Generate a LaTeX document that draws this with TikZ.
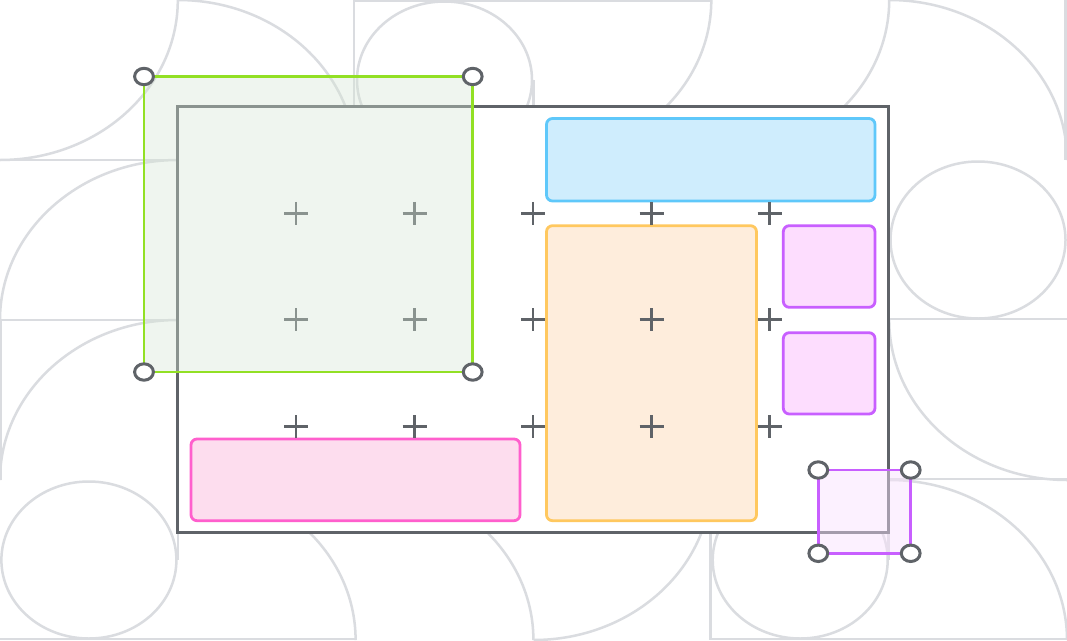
\documentclass[tikz,border=0pt]{standalone}
\definecolor{bgline}{RGB}{218,220,224}
\definecolor{ink}{RGB}{95,99,104}
\definecolor{grnS}{RGB}{146,224,36}
\definecolor{grnF}{RGB}{214,230,212}
\definecolor{bluS}{RGB}{95,200,250}
\definecolor{bluF}{RGB}{207,237,253}
\definecolor{orgS}{RGB}{255,200,95}
\definecolor{orgF}{RGB}{254,237,220}
\definecolor{pnkS}{RGB}{255,95,205}
\definecolor{pnkF}{RGB}{253,221,238}
\definecolor{prpS}{RGB}{200,95,255}
\definecolor{prpF}{RGB}{253,221,254}
\definecolor{selF}{RGB}{250,226,255}
\tikzset{
  bgl/.style={draw=bgline, line width=2.5pt},
  framebox/.style={draw=ink, fill=white, line width=2.8pt},
  card/.style={line width=2.8pt, rounded corners=6pt},
  crossmark/.style={draw=ink, line width=2.8pt},
  handle/.style={draw=ink, fill=white, line width=3pt},
}
\begin{document}
\begin{tikzpicture}[x=1pt,y=-1pt]
\useasboundingbox (0,0) rectangle (1067,640);
\clip (0,0) rectangle (1067,640);
\fill[white] (0,0) rectangle (1067,640);
% background pattern
\begin{scope}[bgl]
  % row 0
  \draw (177.8,0) arc[start angle=0,end angle=90,x radius=177.8,y radius=160];
  \draw (177.8,0) arc[start angle=-90,end angle=0,x radius=177.8,y radius=160];
  \draw (0,160) -- (177.8,160);
  \draw (444.5,80) ellipse[x radius=87.5,y radius=78.5];
  \draw (354,160) -- (354,1) -- (711.3,1);
  \draw (533.5,80) -- (533.5,160);
  \draw (711.3,0) arc[start angle=0,end angle=90,x radius=177.8,y radius=160];
  \draw (889.2,0) arc[start angle=0,end angle=90,x radius=177.8,y radius=160];
  \draw (889.2,0) arc[start angle=-90,end angle=0,x radius=177.8,y radius=160];
  \draw (1065.5,0) -- (1065.5,160);
  % row 1
  \draw (177.8,160) arc[start angle=-90,end angle=-180,x radius=177.8,y radius=160];
  \draw (0,320) -- (177.8,320);
  \draw (978,240) ellipse[x radius=87.5,y radius=78.5];
  \draw (889.2,319) -- (1067,319);
  % row 2
  \draw (177.8,320) arc[start angle=-90,end angle=-180,x radius=177.8,y radius=160];
  \draw (1.2,320) -- (1.2,480);
  \draw (889.2,320) arc[start angle=180,end angle=90,x radius=177.8,y radius=160];
  \draw (889.2,479) -- (1067,479);
  % row 3
  \draw (88.9,560) ellipse[x radius=87.5,y radius=78.5];
  \draw (177.8,480) -- (177.8,560);
  \draw (0,638.8) -- (355.6,638.8);
  \draw (177.8,480) arc[start angle=-90,end angle=0,x radius=177.8,y radius=160];
  \draw (355.6,480) arc[start angle=-90,end angle=0,x radius=177.8,y radius=160];
  \draw (711.3,480) arc[start angle=0,end angle=90,x radius=177.8,y radius=160];
  \draw (710.5,480) -- (710.5,638.8) -- (1067,638.8);
  \draw (800.2,560) ellipse[x radius=87.5,y radius=78.5];
  \draw (888.3,480) -- (888.3,560);
  \draw (889.2,480) arc[start angle=-90,end angle=0,x radius=177.8,y radius=160];
\end{scope}
% frame
\draw[framebox] (177.7,106.7) rectangle (888.3,532.8);
% cards
\draw[card, draw=bluS, fill=bluF] (546.5,118.5) rectangle (875,201);
\draw[card, draw=orgS, fill=orgF] (546.5,225.7) rectangle (756.5,520.7);
\draw[card, draw=pnkS, fill=pnkF] (191,439) rectangle (520,520.7);
\draw[card, draw=prpS, fill=prpF] (783.3,225.7) rectangle (875,307.3);
\draw[card, draw=prpS, fill=prpF] (783.3,332.7) rectangle (875,414);
% crosses
\foreach \cx in {296,414.5,533,651.5,769.5}{
  \foreach \cy in {213.3,319.8,426.5}{
    \draw[crossmark] ({\cx-12},\cy) -- ({\cx+12},\cy);
    \draw[crossmark] (\cx,{\cy-11.5}) -- (\cx,{\cy+11.5});
  }
}
% green selection
\fill[grnF, fill opacity=0.37] (144,76.5) rectangle (472.7,372);
\draw[grnS, line width=2.8pt] (144,76.5) rectangle (472.7,372);
% small purple selection
\fill[selF, fill opacity=0.45] (818.3,470) rectangle (910.7,553.3);
\draw[prpS, line width=2.8pt] (818.3,470) rectangle (910.7,553.3);
% handles
\foreach \hx/\hy in {144/76.5, 472.7/76.5, 144/372, 472.7/372, 818.3/470, 910.7/470, 818.3/553.3, 910.7/553.3}{
  \draw[handle] (\hx,\hy) ellipse[x radius=9.4,y radius=8.2];
}
\end{tikzpicture}
\end{document}
